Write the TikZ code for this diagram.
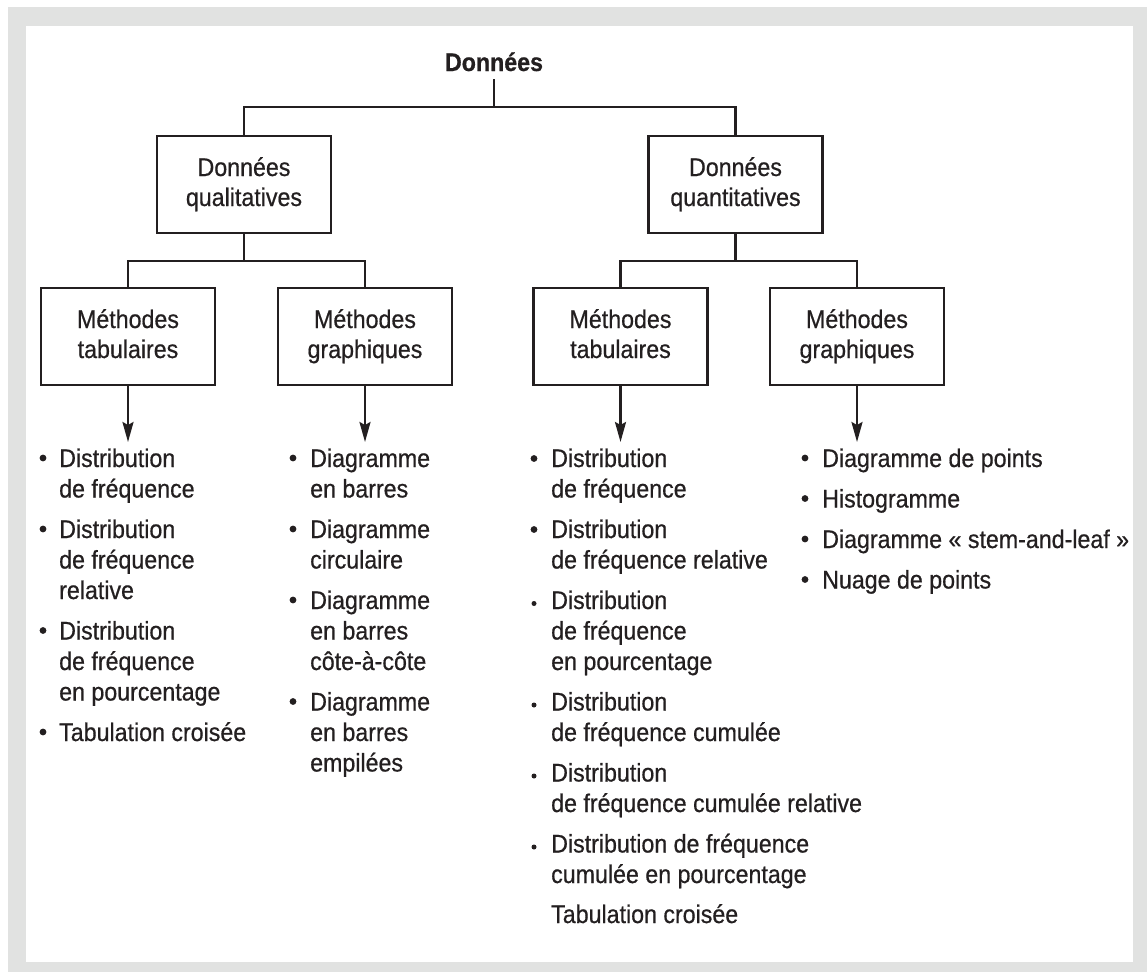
\documentclass[tikz,border=0pt]{standalone}
\usepackage{fontspec}
\setmainfont{Liberation Sans}[FakeStretch=0.91, FakeBold=0.6]
\usetikzlibrary{arrows.meta}
\definecolor{framegrey}{HTML}{E1E2E1}
\definecolor{ink}{HTML}{231F20}
\tikzset{
  boxnode/.style={draw=ink, line width=2.6pt, minimum width=174pt, minimum height=97pt, inner sep=0pt},
  txt/.style={text=ink, font=\fontsize{25.5}{30.5}\selectfont, inner sep=0pt, anchor=base},
  ltxt/.style={txt, anchor=base west},
  conn/.style={draw=ink, line width=2.3pt},
  arr/.style={conn, -{Stealth[length=20pt,width=11pt,inset=3pt]}},
  bul/.style={fill=ink, circle, inner sep=0pt, minimum size=6.8pt},
  sbul/.style={fill=ink, circle, inner sep=0pt, minimum size=5pt},
}
\begin{document}
\begin{tikzpicture}[x=1pt,y=-1pt]
\useasboundingbox (0,0) rectangle (1147,972);
\fill[white] (0,0) rectangle (1147,972);
\fill[framegrey] (8,7) rectangle (1147,972);
\fill[white] (26,26) rectangle (1133,962);

% root
\node[txt, font=\fontsize{25.5}{30}\selectfont\bfseries, inner ysep=8pt] (root) at (494,71) {Données};

% level 1 boxes
\node[boxnode] (q) at (244,184.5) {};
\node[txt] (qa) at (244,176) {Données};
\node[txt] (qb) at (244,206) {qualitatives};
\node[boxnode] (n) at (735.5,184.5) {};
\node[txt] (na) at (735.5,176) {Données};
\node[txt] (nb) at (735.5,206) {quantitatives};

% level 2 boxes
\node[boxnode] (t1) at (128,336.5) {};
\node[txt] (t1a) at (128,328) {Méthodes};
\node[txt] (t1b) at (128,358) {tabulaires};
\node[boxnode] (g1) at (365,336.5) {};
\node[txt] (g1a) at (365,328) {Méthodes};
\node[txt] (g1b) at (365,358) {graphiques};
\node[boxnode] (t2) at (620.5,336.5) {};
\node[txt] (t2a) at (620.5,328) {Méthodes};
\node[txt] (t2b) at (620.5,358) {tabulaires};
\node[boxnode] (g2) at (857,336.5) {};
\node[txt] (g2a) at (857,328) {Méthodes};
\node[txt] (g2b) at (857,358) {graphiques};

% connectors
\coordinate (bar1) at (494,107);
\coordinate (bar2) at (244,261);
\coordinate (bar3) at (735.5,261);
\draw[conn] (root.south) -- (bar1);
\draw[conn] (q.north) |- (bar1) -| (n.north);
\draw[conn] (q.south) -- (bar2);
\draw[conn] (t1.north) |- (bar2) -| (g1.north);
\draw[conn] (n.south) -- (bar3);
\draw[conn] (t2.north) |- (bar3) -| (g2.north);

\coordinate (a1) at (128,442);
\coordinate (a2) at (365,442);
\coordinate (a3) at (620.5,442);
\coordinate (a4) at (857,442);
\draw[arr] (t1.south) -- (a1);
\draw[arr] (g1.south) -- (a2);
\draw[arr] (t2.south) -- (a3);
\draw[arr] (g2.south) -- (a4);

% column 1
\node[bul] (b11) at (43,458) {};
\node[ltxt] (c11a) at (59,467) {Distribution};
\node[ltxt] (c11b) at (59,497.5) {de fréquence};
\node[bul] (b12) at (43,529) {};
\node[ltxt] (c12a) at (59,538) {Distribution};
\node[ltxt] (c12b) at (59,568.5) {de fréquence};
\node[ltxt] (c12c) at (59,599) {relative};
\node[bul] (b13) at (43,630.5) {};
\node[ltxt] (c13a) at (59,639.5) {Distribution};
\node[ltxt] (c13b) at (59,670) {de fréquence};
\node[ltxt] (c13c) at (59,700.5) {en pourcentage};
\node[bul] (b14) at (43,732) {};
\node[ltxt] (c14a) at (59,741) {Tabulation croisée};

% column 2
\node[bul] (b21) at (293,458) {};
\node[ltxt] (c21a) at (310,467) {Diagramme};
\node[ltxt] (c21b) at (310,497.5) {en barres};
\node[bul] (b22) at (293,529) {};
\node[ltxt] (c22a) at (310,538) {Diagramme};
\node[ltxt] (c22b) at (310,568.5) {circulaire};
\node[bul] (b23) at (293,600) {};
\node[ltxt] (c23a) at (310,609) {Diagramme};
\node[ltxt] (c23b) at (310,639.5) {en barres};
\node[ltxt] (c23c) at (310,670) {côte-à-côte};
\node[bul] (b24) at (293,701.5) {};
\node[ltxt] (c24a) at (310,710.5) {Diagramme};
\node[ltxt] (c24b) at (310,741) {en barres};
\node[ltxt] (c24c) at (310,771.5) {empilées};

% column 3
\node[bul] (b31) at (534,458.5) {};
\node[ltxt] (c31a) at (551,467) {Distribution};
\node[ltxt] (c31b) at (551,497.5) {de fréquence};
\node[bul] (b32) at (534,529.5) {};
\node[ltxt] (c32a) at (551,538) {Distribution};
\node[ltxt] (c32b) at (551,568.5) {de fréquence relative};
\node[sbul] (b33) at (534,603.5) {};
\node[ltxt] (c33a) at (551,609) {Distribution};
\node[ltxt] (c33b) at (551,639.5) {de fréquence};
\node[ltxt] (c33c) at (551,670) {en pourcentage};
\node[sbul] (b34) at (534,705) {};
\node[ltxt] (c34a) at (551,710.5) {Distribution};
\node[ltxt] (c34b) at (551,741) {de fréquence cumulée};
\node[sbul] (b35) at (534,776) {};
\node[ltxt] (c35a) at (551,781.5) {Distribution};
\node[ltxt] (c35b) at (551,812) {de fréquence cumulée relative};
\node[sbul] (b36) at (534,847) {};
\node[ltxt] (c36a) at (551,852.5) {Distribution de fréquence};
\node[ltxt] (c36b) at (551,883) {cumulée en pourcentage};
\node[ltxt] (c37a) at (551,923) {Tabulation croisée};

% column 4
\node[bul] (b41) at (805,458) {};
\node[ltxt] (c41a) at (822,467) {Diagramme de points};
\node[bul] (b42) at (805,498.5) {};
\node[ltxt] (c42a) at (822,507.5) {Histogramme};
\node[bul] (b43) at (805,539) {};
\node[ltxt] (c43a) at (822,548) {Diagramme « stem-and-leaf »};
\node[bul] (b44) at (805,579.5) {};
\node[ltxt] (c44a) at (822,588.5) {Nuage de points};
\end{tikzpicture}
\end{document}
